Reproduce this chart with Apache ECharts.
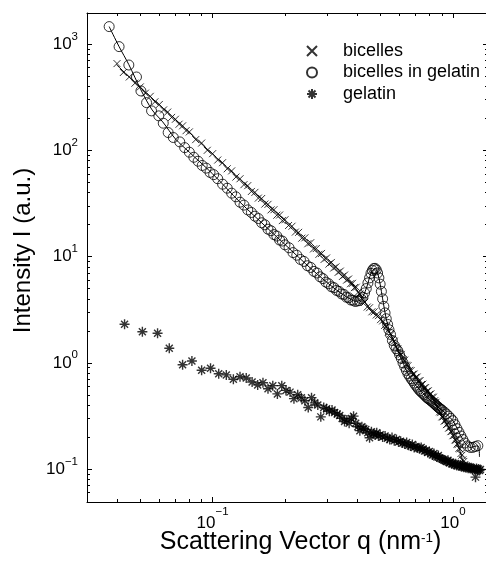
<!DOCTYPE html>
<html>
<head>
<meta charset="utf-8">
<script src="https://cdn.jsdelivr.net/npm/echarts@6/dist/echarts.min.js"></script>
<style>
html,body{margin:0;padding:0;background:#fff;}
#chart{width:486px;height:564px;}
</style>
</head>
<body>
<div id="chart"></div>
<script>
// ---- data (q in nm^-1, intensity in a.u.) ----
const seriesNames = ['bicelles', 'bicelles in gelatin', 'gelatin'];

const bicelles = [
[0.0400,655],[0.0425,540],[0.0450,490],[0.0475,428],[0.0500,395],[0.0525,345],[0.0550,322],[0.0575,286],[0.0600,270],[0.0625,240],[0.0650,229],[0.0675,204],[0.0700,196],[0.0725,176],[0.0750,170],[0.0775,153],[0.0800,149],
[0.085,126],[0.090,117],[0.095,100],[0.100,93],[0.105,81],[0.110,76.5],[0.115,67],[0.120,64],[0.125,56],[0.130,54],[0.135,47.5],[0.140,46.5],[0.145,41],[0.150,40.2],[0.155,35.5],[0.160,35.2],[0.165,31.2],[0.170,31.0],[0.175,27.5],[0.180,27.6],[0.185,24.5],[0.190,24.6],[0.195,21.8],[0.200,22.2],
[0.207,19.6],[0.214,19.3],[0.221,17.0],[0.228,16.9],[0.235,14.9],[0.242,15.0],[0.249,13.2],[0.256,13.5],[0.263,11.8],[0.270,11.9],[0.277,10.5],[0.284,10.7],[0.291,9.4],[0.298,9.7],[0.305,8.5],[0.312,8.8],[0.319,7.8],[0.326,8.0],[0.333,7.1],[0.340,7.3],[0.347,6.5],[0.354,6.7],[0.361,6.0],[0.368,6.15],[0.375,5.55],[0.382,5.6],[0.389,5.1],[0.396,5.15],[0.403,4.6],
[0.41,4.45],[0.42,3.95],[0.43,3.72],[0.44,3.35],[0.45,3.3],[0.46,3.02],[0.47,3.02],[0.48,2.82],[0.49,2.78],[0.50,2.55],
[0.51,2.48],[0.52,2.25],[0.53,2.2],[0.54,1.95],[0.55,1.88],[0.56,1.66],[0.57,1.6],[0.58,1.4],[0.59,1.36],[0.60,1.22],
[0.61,1.2],[0.62,1.07],[0.63,1.06],[0.64,0.95],[0.65,0.94],[0.66,0.85],[0.67,0.845],[0.68,0.78],[0.69,0.785],[0.70,0.73],
[0.71,0.735],[0.72,0.675],[0.73,0.68],[0.74,0.625],[0.75,0.63],[0.76,0.58],[0.77,0.585],[0.78,0.54],[0.79,0.545],[0.80,0.505],
[0.81,0.51],[0.82,0.475],[0.83,0.475],[0.84,0.44],[0.85,0.425],[0.86,0.39],[0.87,0.38],[0.88,0.345],[0.89,0.34],[0.90,0.31],
[0.91,0.31],[0.92,0.283],[0.93,0.285],[0.94,0.262],[0.95,0.265],[0.96,0.243],[0.97,0.245],[0.98,0.225],[0.99,0.226],[1.00,0.206],
[1.01,0.207],[1.02,0.188],[1.03,0.187],[1.04,0.172],[1.05,0.17],[1.06,0.157],[1.07,0.155],[1.08,0.14],[1.09,0.135],[1.10,0.122],
[1.11,0.118],[1.12,0.11]
];

const bicellesInGelatin = [
[0.0371,1460],[0.0408,946],[0.0448,635],[0.0482,490],[0.0503,362],[0.0531,281],[0.0557,235],[0.0597,211],[0.0623,180],[0.0653,147],[0.0686,132],[0.0730,120],
[0.0765,106],[0.0800,96],[0.0835,86],[0.0870,79],[0.0905,72],[0.0940,68],[0.0975,62],[0.1010,59],
[0.105,54],[0.110,48],[0.115,44],[0.120,39.5],[0.125,36.5],[0.130,32.5],[0.135,30.5],[0.140,27.5],[0.145,26],[0.150,24],[0.155,22.8],[0.160,20.8],[0.165,19.9],[0.170,18.1],[0.175,17.5],[0.180,16.1],[0.185,15.6],[0.190,14.3],[0.195,14],[0.200,12.9],
[0.208,12.1],[0.216,10.9],[0.224,10.3],[0.232,9.4],[0.240,9.0],[0.248,8.2],[0.256,7.9],[0.264,7.25],[0.272,7.0],[0.280,6.45],[0.288,6.2],[0.296,5.75],[0.304,5.55],[0.312,5.2],[0.320,5.1],[0.328,4.8],[0.336,4.7],[0.344,4.45],[0.352,4.4],[0.360,4.15],[0.368,4.1],[0.376,3.9],[0.384,3.88],[0.392,3.78],[0.400,3.82],
[0.408,3.85],[0.415,4.0],[0.422,4.15],[0.429,4.55],[0.436,5.0],[0.443,5.65],[0.450,6.3],
[0.456,6.95],[0.462,7.4],[0.468,7.7],[0.474,7.75],[0.480,7.5],[0.486,7.0],[0.492,6.3],[0.498,5.5],[0.504,4.7],[0.510,4.0],[0.516,3.4],[0.522,2.95],[0.528,2.6],
[0.535,2.3],[0.542,2.05],[0.550,1.85],
[0.56,1.62],[0.57,1.46],[0.58,1.36],[0.59,1.30],[0.60,1.19],[0.61,1.10],[0.62,1.0],[0.63,0.92],[0.64,0.85],[0.65,0.79],
[0.66,0.75],[0.67,0.71],[0.68,0.68],[0.69,0.645],[0.70,0.615],[0.71,0.59],[0.72,0.565],[0.73,0.545],[0.74,0.53],[0.75,0.515],
[0.76,0.50],[0.77,0.485],[0.78,0.47],[0.79,0.46],[0.80,0.45],[0.81,0.44],[0.82,0.43],[0.83,0.42],[0.84,0.41],[0.85,0.40],
[0.86,0.39],[0.87,0.38],[0.88,0.373],[0.89,0.365],[0.90,0.36],
[0.92,0.345],[0.94,0.33],[0.96,0.315],[0.98,0.30],[1.00,0.285],[1.02,0.262],[1.04,0.24],[1.06,0.222],[1.08,0.205],[1.10,0.19],[1.12,0.176],
[1.15,0.165],[1.18,0.16],[1.21,0.16],[1.24,0.163],[1.27,0.166]
];

const gelatin = [
[0.043,2.31],[0.051,1.96],[0.059,1.90],[0.066,1.37],[0.075,0.96],[0.082,1.04],[0.090,0.85],[0.098,0.89],
[0.106,0.79],[0.114,0.77],[0.122,0.70],[0.130,0.74],[0.138,0.72],[0.146,0.66],[0.154,0.62],[0.162,0.65],[0.170,0.57],[0.178,0.61],
[0.186,0.51],[0.194,0.61],[0.202,0.55],[0.210,0.53],[0.218,0.46],[0.226,0.50],[0.234,0.47],[0.242,0.44],[0.250,0.38],[0.258,0.47],
[0.266,0.42],[0.274,0.40],[0.282,0.31],[0.290,0.38],[0.298,0.37],[0.306,0.35],[0.314,0.36],[0.322,0.34],[0.330,0.33],[0.338,0.32],
[0.346,0.30],[0.354,0.28],[0.362,0.29],[0.370,0.27],[0.378,0.30],[0.386,0.315],[0.394,0.27],[0.402,0.25],[0.410,0.23],[0.418,0.25],
[0.426,0.24],[0.434,0.236],[0.442,0.22],[0.450,0.197],[0.458,0.225],[0.466,0.215],[0.474,0.21],[0.482,0.22],[0.490,0.205],[0.498,0.21],
[0.510,0.20],[0.522,0.205],[0.534,0.195],[0.546,0.19],[0.558,0.198],[0.570,0.185],[0.582,0.19],[0.594,0.18],[0.606,0.183],[0.618,0.176],
[0.630,0.172],[0.642,0.178],[0.654,0.168],[0.666,0.165],[0.678,0.17],[0.690,0.16],[0.702,0.163],[0.714,0.158],[0.726,0.155],[0.738,0.16],
[0.750,0.153],[0.762,0.148],[0.774,0.15],[0.786,0.143],[0.798,0.146],[0.810,0.14],[0.822,0.136],[0.834,0.14],[0.846,0.133],[0.858,0.13],
[0.870,0.134],[0.882,0.127],[0.894,0.125],[0.906,0.124],[0.918,0.122],[0.930,0.12],[0.942,0.118],[0.954,0.121],[0.966,0.115],[0.978,0.116],
[0.990,0.112],[1.002,0.113],[1.014,0.11],[1.026,0.112],[1.038,0.108],[1.050,0.11],[1.062,0.107],[1.074,0.109],[1.086,0.105],[1.098,0.107],
[1.110,0.104],[1.122,0.106],[1.134,0.103],[1.146,0.105],[1.158,0.102],[1.170,0.104],[1.182,0.101],[1.194,0.103],[1.206,0.1],[1.218,0.102],
[1.230,0.099],[1.242,0.084],[1.254,0.101],[1.266,0.098],[1.278,0.1],[1.290,0.097],[1.302,0.099]
];

// fitted curves drawn through the two bicelle data sets
const fitBicelles = [
[0.0398,640],[0.05,390],[0.07,195],[0.1,92],[0.15,39.5],[0.2,21.8],[0.25,13.5],[0.3,9.3],[0.35,6.6],[0.39,5.2],
[0.42,4.0],[0.46,3.05],[0.5,2.55],[0.55,1.88],[0.6,1.24],[0.7,0.74],[0.8,0.51],[0.9,0.315],[1.0,0.21],[1.06,0.158],[1.10,0.118]
];
const fitBicellesInGelatin = [
[0.0371,1460],[0.0408,946],[0.0448,640],[0.0503,370],[0.056,240],[0.062,185],[0.07,128],[0.08,96],[0.1,60],[0.13,32.5],
[0.17,18.3],[0.2,13],[0.26,7.5],[0.32,5.05],[0.36,4.2],[0.395,3.8],[0.415,3.95],[0.436,5.0],[0.456,6.95],[0.474,7.75],
[0.486,7.0],[0.498,5.5],[0.51,4.0],[0.528,2.6],[0.55,1.85],[0.6,1.19],[0.65,0.79],[0.7,0.615],[0.8,0.45],[0.9,0.36],
[1.0,0.285],[1.1,0.19],[1.18,0.16],[1.27,0.166],[1.29,0.13]
];

// axes
const xRange = [0.03, 1.4];
const yRange = [0.049, 1960];
const xMajorTicks = [0.1, 1];
const xMinorTicks = [0.04,0.05,0.06,0.07,0.08,0.09,0.2,0.3,0.4,0.5,0.6,0.7,0.8,0.9];
const yMajorTicks = [0.1, 1, 10, 100, 1000];
const yMinorTicks = [0.06,0.07,0.08,0.09,0.2,0.3,0.4,0.5,0.6,0.7,0.8,0.9,2,3,4,5,6,7,8,9,20,30,40,50,60,70,80,90,200,300,400,500,600,700,800,900];
const xTitle = 'Scattering Vector q (nm{s|-1})';
const yTitle = 'Intensity I (a.u.)';

// ---- rendering ----
const FONT = 'Liberation Sans';
const crossPath = 'path://M0,0L10,10M10,0L0,10';
const starPath = 'path://M5,0L5,10M0,5L10,5M1.5,1.5L8.5,8.5M8.5,1.5L1.5,8.5';

function powLabel(v) {
  const e = Math.round(Math.log10(v));
  const s = e < 0 ? '\u2212' + (-e) : String(e);
  return '{b|10}{s|' + s + '}';
}
function labelRich(pad) {
  return {
    b: {fontSize: 17, lineHeight: 17, fontFamily: FONT, color: '#000'},
    s: {fontSize: 11.5, lineHeight: 11.5, fontFamily: FONT, color: '#000', padding: [0, 0, pad, 0]}
  };
}
const black = {color: '#000', width: 1};

function xAxisDef(pos, major, withLabels) {
  const a = {
    type: 'log', logBase: 10, min: xRange[0], max: xRange[1], position: pos, gridIndex: 0,
    splitLine: {show: false},
    axisLine: {show: major, lineStyle: black},
    axisTick: {show: true, inside: true, length: major ? 5 : 3, lineStyle: black,
               customValues: major ? xMajorTicks : xMinorTicks},
    axisLabel: {show: false}
  };
  if (withLabels) {
    a.axisLabel = {show: true, customValues: xMajorTicks, formatter: powLabel, margin: 13, rich: labelRich(24)};
    a.name = xTitle;
    a.nameLocation = 'middle';
    a.nameGap = 28;
    a.nameMoveOverlap = false;
    a.nameTextStyle = {fontSize: 25, fontFamily: FONT, color: '#000', padding: [0, 0, 0, 26],
      rich: {s: {fontSize: 13.5, fontFamily: FONT, color: '#000', padding: [0, 0, 8, 0]}}};
  }
  return a;
}
function yAxisDef(pos, major, withLabels) {
  const a = {
    type: 'log', logBase: 10, min: yRange[0], max: yRange[1], position: pos, gridIndex: 0,
    splitLine: {show: false},
    axisLine: {show: major, lineStyle: black},
    axisTick: {show: true, inside: true, length: major ? 5 : 3, lineStyle: black,
               customValues: major ? yMajorTicks : yMinorTicks},
    axisLabel: {show: false}
  };
  if (withLabels) {
    a.axisLabel = {show: true, customValues: yMajorTicks, formatter: powLabel, margin: 9, rich: labelRich(15)};
    a.name = yTitle;
    a.nameLocation = 'middle';
    a.nameGap = 52;
    a.nameTextStyle = {fontSize: 24, fontFamily: FONT, color: '#000', padding: [0, 0, 0, 14]};
  }
  return a;
}

function pairs(arr) { return arr.map(function (p) { return [p[0], p[1]]; }); }

const chart = echarts.init(document.getElementById('chart'), null, {renderer: 'canvas'});
chart.setOption({
  backgroundColor: '#fff',
  animation: false,
  grid: {left: 87, top: 13, bottom: 62, right: -2, containLabel: false, outerBoundsMode: 'none'},
  xAxis: [
    xAxisDef('bottom', true, true),
    xAxisDef('bottom', false, false),
    xAxisDef('top', true, false),
    xAxisDef('top', false, false)
  ],
  yAxis: [
    yAxisDef('left', true, true),
    yAxisDef('left', false, false),
    yAxisDef('right', true, false),
    yAxisDef('right', false, false)
  ],
  legend: {
    data: seriesNames,
    orient: 'vertical',
    left: 306, top: 42, padding: 0,
    itemWidth: 10, itemHeight: 10, itemGap: 3.5,
    textStyle: {fontSize: 18, lineHeight: 18, fontFamily: FONT, color: '#000', padding: [0, 0, 0, 21]}
  },
  series: [
    {
      name: seriesNames[2], type: 'scatter', xAxisIndex: 0, yAxisIndex: 0,
      symbol: starPath, symbolSize: 10,
      itemStyle: {color: '#000', borderColor: '#000', borderWidth: 1.4},
      data: pairs(gelatin), z: 2
    },
    {
      name: seriesNames[1], type: 'scatter', xAxisIndex: 0, yAxisIndex: 0,
      symbol: 'circle', symbolSize: 10,
      itemStyle: {color: 'rgba(0,0,0,0)', borderColor: '#000', borderWidth: 1},
      data: pairs(bicellesInGelatin), z: 3
    },
    {
      name: seriesNames[0], type: 'scatter', xAxisIndex: 0, yAxisIndex: 0,
      symbol: crossPath, symbolSize: 7,
      itemStyle: {color: '#000', borderColor: '#000', borderWidth: 1},
      data: pairs(bicelles), z: 4
    },
    {
      name: 'fit bicelles', type: 'line', xAxisIndex: 0, yAxisIndex: 0,
      showSymbol: false, smooth: 0.3, lineStyle: {color: '#000', width: 1},
      data: pairs(fitBicelles), z: 5, silent: true
    },
    {
      name: 'fit bicelles in gelatin', type: 'line', xAxisIndex: 0, yAxisIndex: 0,
      showSymbol: false, smooth: 0.3, lineStyle: {color: '#000', width: 1},
      data: pairs(fitBicellesInGelatin), z: 5, silent: true
    }
  ]
});
</script>
</body>
</html>
